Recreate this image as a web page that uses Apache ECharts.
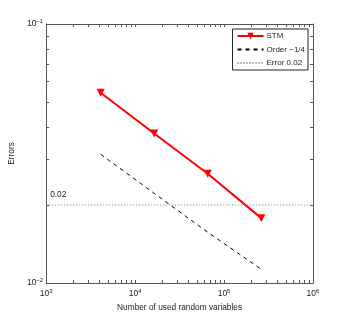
<!DOCTYPE html>
<html><head><meta charset="utf-8">
<script src="https://cdn.jsdelivr.net/npm/echarts@6/dist/echarts.min.js"></script>
<style>html,body{margin:0;padding:0;background:#fff}#c{width:346px;height:319px}</style>
</head><body><div id="c"></div>
<script>
const samples = [4096, 16384, 65536, 262144];
const stmErrors = [0.0543, 0.0378, 0.0264, 0.0178];
const orderRef = [0.0314, 0.0222, 0.0157, 0.0113];
const errorLevelX = [1000, 1000000];
const errorLevel = [0.02, 0.02];
const xMajor = [1e3, 1e4, 1e5, 1e6];
const yMajor = [1e-2, 1e-1];
const xMinor = [];
for (let e = 3; e < 6; e++) for (let m = 1; m <= 9; m++) xMinor.push(m * Math.pow(10, e));
xMinor.push(1e6);
const yMinor = [];
for (let m = 1; m <= 10; m++) yMinor.push(m * 1e-2);

const FONT = 'Liberation Sans';
const axisColor = '#555';
function pow10Label(v) {
  const e = Math.round(Math.log10(v));
  return '{b|10}{e|' + (e < 0 ? '\u2212' + (-e) : e) + '}';
}
const rich = {
  b: {fontSize: 8.5, fontFamily: FONT, color: '#222'},
  e: {fontSize: 6, fontFamily: FONT, color: '#222', verticalAlign: 'top', padding: [0, 0, 6, 0]}
};
function xAx(pos, showLabel) {
  return {
    type: 'log', logBase: 10, min: 1e3, max: 1e6, position: pos,
    axisLine: {show: true, onZero: false, lineStyle: {color: axisColor, width: 1}},
    axisTick: {show: true, inside: true, length: 3, customValues: xMinor, lineStyle: {color: axisColor}},
    axisLabel: {show: showLabel, customValues: xMajor, formatter: pow10Label, rich: rich, margin: 5},
    splitLine: {show: false},
    name: showLabel ? 'Number of used random variables' : '',
    nameLocation: 'middle', nameGap: 18,
    nameTextStyle: {fontSize: 8.3, fontFamily: FONT, color: '#222'}
  };
}
function yAx(pos, showLabel) {
  return {
    type: 'log', logBase: 10, min: 1e-2, max: 1e-1, position: pos,
    axisLine: {show: true, onZero: false, lineStyle: {color: axisColor, width: 1}},
    axisTick: {show: true, inside: true, length: 3, customValues: yMinor, lineStyle: {color: axisColor}},
    axisLabel: {show: showLabel, customValues: yMajor, formatter: pow10Label, rich: rich, margin: 3},
    splitLine: {show: false},
    name: showLabel ? 'Errors' : '',
    nameLocation: 'middle', nameGap: 16, nameRotate: 90,
    nameTextStyle: {fontSize: 8.3, fontFamily: FONT, color: '#222'}
  };
}
const chart = echarts.init(document.getElementById('c'), null, {renderer: 'canvas'});
chart.setOption({
  animation: false,
  backgroundColor: '#fff',
  grid: {left: 45, right: 33, top: 24, bottom: 36, containLabel: false},
  xAxis: [xAx('bottom', true), xAx('top', false)],
  yAxis: [yAx('left', true), yAx('right', false)],
  legend: {
    orient: 'vertical', right: 38, top: 29,
    backgroundColor: '#fff', borderColor: '#222', borderWidth: 1,
    padding: [3, 3, 3, 4], itemGap: 5.5, itemWidth: 26, itemHeight: 8,
    textStyle: {fontSize: 8, fontFamily: FONT, color: '#222', padding: [0, 0, 0, -2]},
    data: [
      {name: 'STM'},
      {name: 'Order \u22121/4', itemStyle: {opacity: 0}},
      {name: 'Error 0.02', itemStyle: {opacity: 0}}
    ]
  },
  series: [
    {
      name: 'STM', type: 'line', xAxisIndex: 0, yAxisIndex: 0,
      data: samples.map((x, i) => [x, stmErrors[i]]),
      lineStyle: {color: '#ff0000', width: 2},
      itemStyle: {color: '#ff0000'},
      symbol: 'triangle', symbolRotate: 180, symbolSize: 8, showSymbol: true
    },
    {
      name: 'Order \u22121/4', type: 'line', xAxisIndex: 0, yAxisIndex: 0,
      data: samples.map((x, i) => [x, orderRef[i]]),
      lineStyle: {color: '#000', width: 1, type: [4, 4]},
      itemStyle: {color: '#000'},
      symbol: 'none'
    },
    {
      name: 'Error 0.02', type: 'line', xAxisIndex: 0, yAxisIndex: 0,
      data: errorLevelX.map((x, i) => [x, errorLevel[i]]),
      lineStyle: {color: '#777', width: 1, type: [1, 2]},
      itemStyle: {color: '#777'},
      symbol: 'circle', symbolSize: 0, showSymbol: true,
      label: {
        show: true, position: 'right', offset: [-1, -10],
        fontSize: 8.3, fontFamily: FONT, color: '#222',
        formatter: p => p.dataIndex === 0 ? '0.02' : ''
      }
    }
  ]
});
</script></body></html>
